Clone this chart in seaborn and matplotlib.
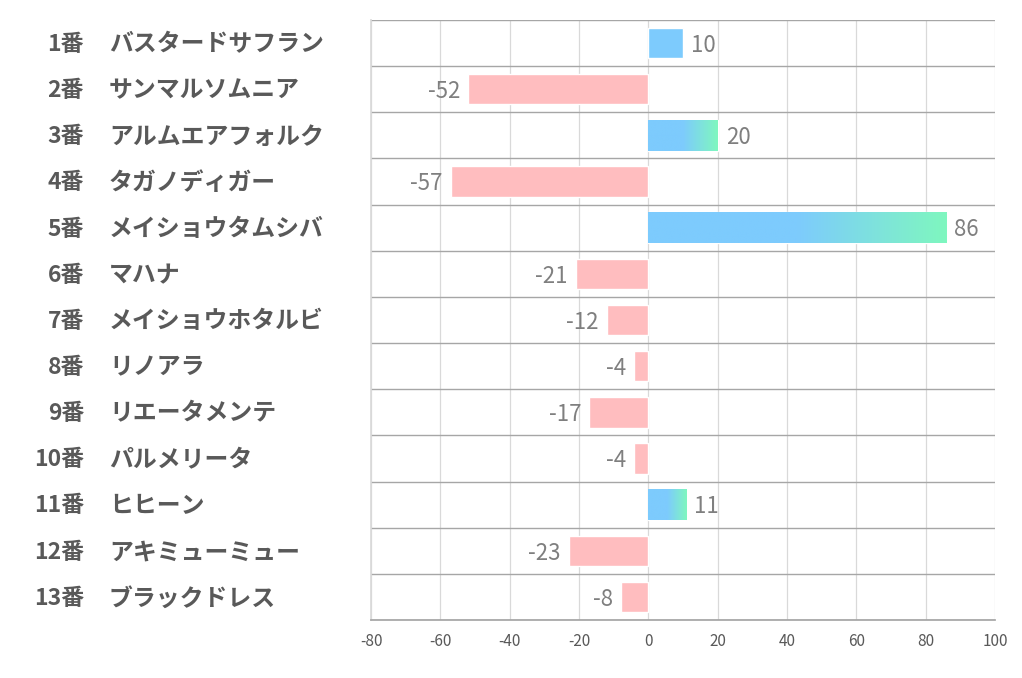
import matplotlib
matplotlib.use("Agg")
import matplotlib.pyplot as plt
import matplotlib.transforms as mtransforms
from matplotlib.colors import LinearSegmentedColormap
import numpy as np
import pandas as pd
import seaborn as sns

numbers = ["1番", "2番", "3番", "4番", "5番", "6番", "7番", "8番", "9番", "10番", "11番", "12番", "13番"]
names = ["バスタードサフラン", "サンマルソムニア", "アルムエアフォルク", "タガノディガー", "メイショウタムシバ",
         "マハナ", "メイショウホタルビ", "リノアラ", "リエータメンテ", "パルメリータ", "ヒヒーン",
         "アキミューミュー", "ブラックドレス"]
values = [10, -52, 20, -57, 86, -21, -12, -4, -17, -4, 11, -23, -8]
x_ticks = [-80, -60, -40, -20, 0, 20, 40, 60, 80, 100]

BLUE = "#7dcbfd"
GREEN = "#7ff7bf"
PINK = "#ffbdbf"
TEXT = "#595959"
VAL = "#7f7f7f"

sns.set_theme(style="white")
plt.rcParams['font.family'] = ['Noto Sans CJK JP', 'DejaVu Sans']

df = pd.DataFrame({"label": [f"{n}{m}" for n, m in zip(numbers, names)], "value": values})
df["sign"] = np.where(df["value"] >= 0, "pos", "neg")

fig = plt.figure(figsize=(10.22, 6.78), dpi=100)
ax = fig.add_axes([371 / 1022, 1 - 620 / 678, (995 - 371) / 1022, 600 / 678])

sns.barplot(data=df, y="label", x="value", hue="sign", palette={"pos": BLUE, "neg": PINK},
            orient="h", width=0.66, dodge=False, legend=False, ax=ax, saturation=1)

ax.set_xlim(-80, 100)
ax.set_ylim(len(values) - 0.5, -0.5)
ax.set_xticks(x_ticks)
ax.set_xticklabels([str(t) for t in x_ticks], fontsize=11, color=TEXT)
ax.tick_params(axis="x", length=0, pad=9)
ax.set_yticks(np.arange(-0.5, len(values), 1.0), minor=True)
ax.set_yticks([])
ax.set_xlabel("")
ax.set_ylabel("")
ax.grid(axis="x", color="#d9d9d9", linewidth=0.9)
ax.grid(axis="y", which="minor", color="#a6a6a6", linewidth=1.0)
ax.tick_params(axis="y", which="minor", length=0)
ax.set_axisbelow(True)
for side in ["top", "right"]:
    ax.spines[side].set_visible(False)
ax.spines["left"].set_color("#d9d9d9")
ax.spines["bottom"].set_color("#a6a6a6")

# gradient fills for positive bars
grad = np.linspace(0, 1, 256).reshape(1, -1)
gcmap = LinearSegmentedColormap.from_list("bg2", [(0, BLUE), (0.5, BLUE), (1, GREEN)])
for patch in ax.patches:
    w = patch.get_width()
    if w <= 0 or np.isnan(w):
        continue
    x0 = patch.get_x()
    y0 = patch.get_y()
    h = patch.get_height()
    if w > 10:
        im = ax.imshow(grad, cmap=gcmap, extent=[x0, x0 + w, y0 + h, y0], aspect="auto",
                       zorder=patch.get_zorder() + 0.1)
        im.set_clip_path(patch)
ax.set_xlim(-80, 100)
ax.set_ylim(len(values) - 0.5, -0.5)

# value labels
for i, v in enumerate(values):
    if v >= 0:
        ax.text(v + 2.3, i + 0.05, str(v), va="center", ha="left", fontsize=16, color=VAL)
    else:
        ax.text(v - 2.3, i + 0.05, str(v), va="center", ha="right", fontsize=16, color=VAL)

# left labels
trans = mtransforms.blended_transform_factory(fig.transFigure, ax.transData)
for i, (n, m) in enumerate(zip(numbers, names)):
    ax.text(84 / 1022, i + 0.03, n, transform=trans, ha="right", va="center", fontsize=16.5,
            fontweight="bold", color=TEXT, clip_on=False)
    ax.text(109 / 1022, i + 0.03, m, transform=trans, ha="left", va="center", fontsize=17.2,
            fontweight="bold", color=TEXT, clip_on=False)

fig.savefig("out.png", dpi=100)
